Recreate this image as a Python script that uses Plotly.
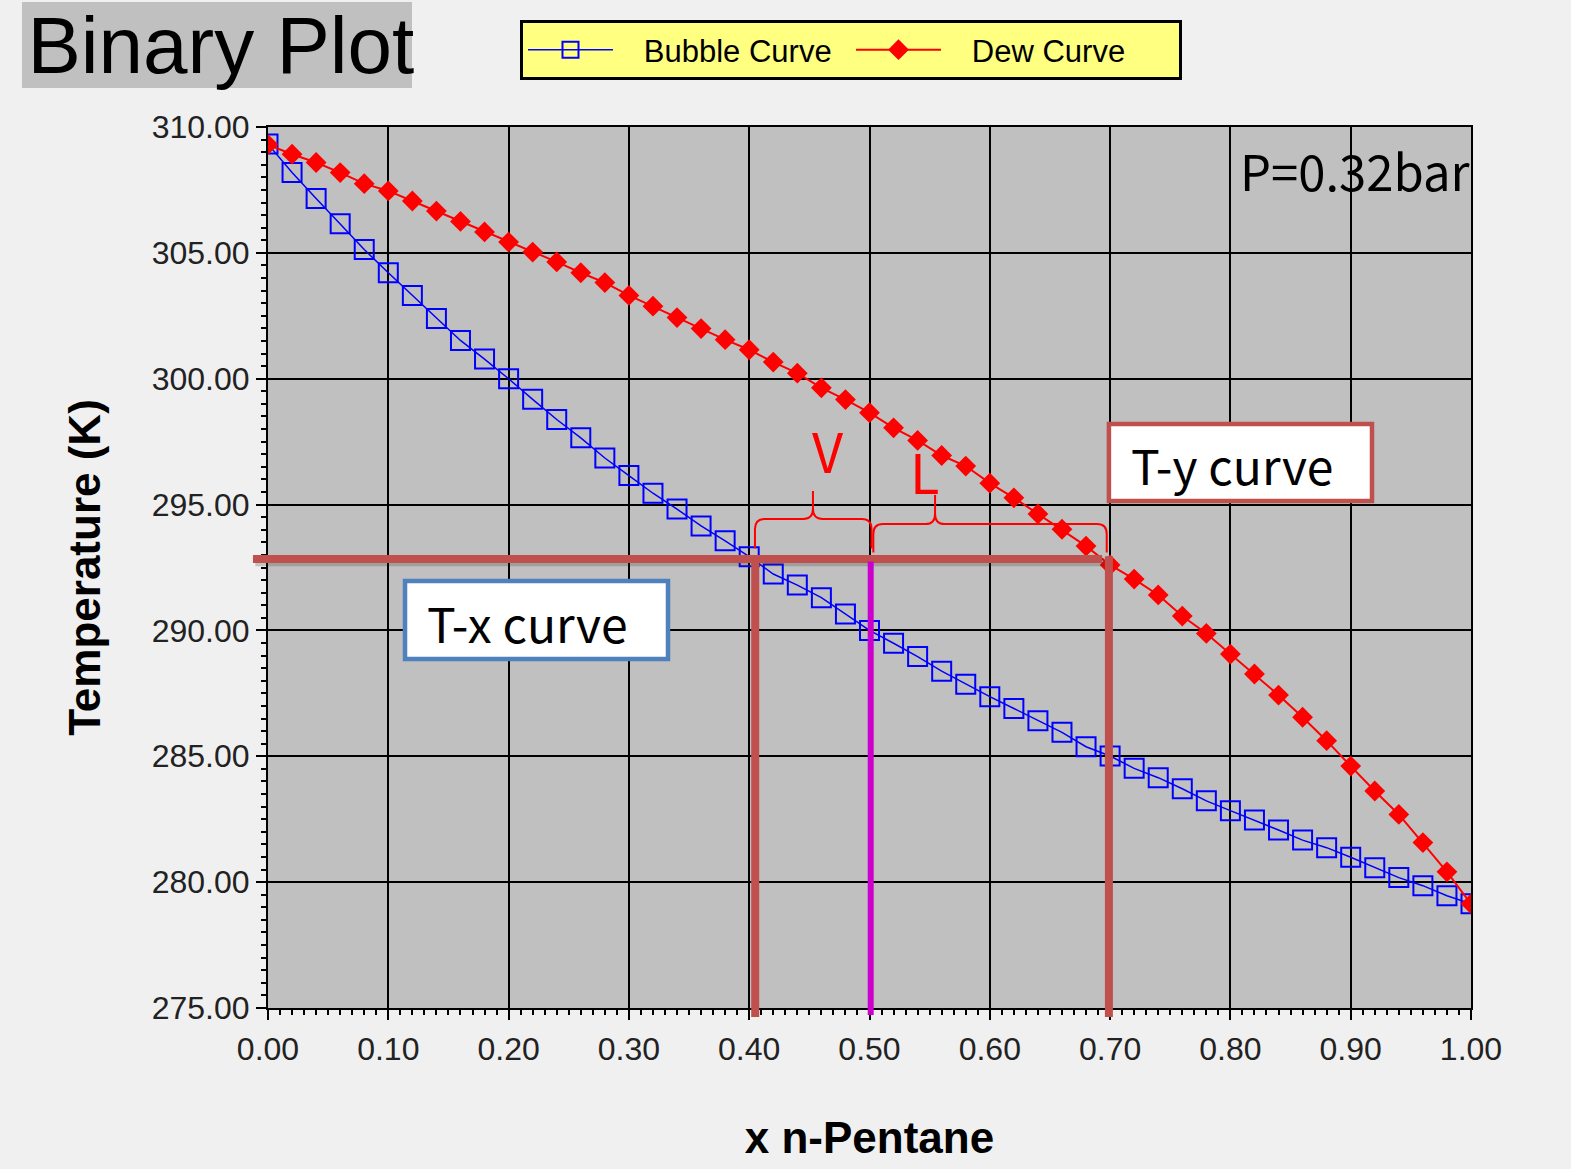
import plotly.graph_objects as go

# Liquid mole fraction of n-pentane (T-x-y diagram at 0.32 bar)
x_pentane = [0.00, 0.02, 0.04, 0.06, 0.08, 0.10, 0.12, 0.14, 0.16, 0.18,
             0.20, 0.22, 0.24, 0.26, 0.28, 0.30, 0.32, 0.34, 0.36, 0.38,
             0.40, 0.42, 0.44, 0.46, 0.48, 0.50, 0.52, 0.54, 0.56, 0.58,
             0.60, 0.62, 0.64, 0.66, 0.68, 0.70, 0.72, 0.74, 0.76, 0.78,
             0.80, 0.82, 0.84, 0.86, 0.88, 0.90, 0.92, 0.94, 0.96, 0.98,
             1.00]

# Bubble-point temperatures (K)
t_bubble = [309.32, 308.19, 307.16, 306.16, 305.13, 304.21, 303.31, 302.39, 301.52, 300.78,
            300.00, 299.18, 298.38, 297.65, 296.85, 296.15, 295.45, 294.82, 294.15, 293.56,
            292.93, 292.24, 291.80, 291.30, 290.65, 290.00, 289.49, 288.96, 288.38, 287.86,
            287.37, 286.90, 286.41, 285.95, 285.38, 285.01, 284.52, 284.15, 283.71, 283.23,
            282.84, 282.47, 282.07, 281.67, 281.37, 280.99, 280.57, 280.18, 279.86, 279.46,
            279.14]

# Dew-point temperatures (K)
t_dew = [309.30, 308.92, 308.59, 308.19, 307.75, 307.46, 307.06, 306.66, 306.25, 305.83,
         305.43, 305.03, 304.64, 304.21, 303.82, 303.31, 302.88, 302.43, 301.99, 301.55,
         301.15, 300.66, 300.22, 299.64, 299.17, 298.65, 298.05, 297.55, 296.95, 296.53,
         295.85, 295.27, 294.63, 294.02, 293.35, 292.60, 292.04, 291.41, 290.57, 289.88,
         289.06, 288.27, 287.43, 286.55, 285.62, 284.61, 283.62, 282.69, 281.57, 280.41,
         279.14]

x_ticks = [0.0, 0.1, 0.2, 0.3, 0.4, 0.5, 0.6, 0.7, 0.8, 0.9, 1.0]
y_ticks = [275, 280, 285, 290, 295, 300, 305, 310]

# Lever-rule construction: tie line temperature and compositions
t_tie = 292.84
x_liq, x_feed, x_vap = 0.405, 0.501, 0.699

ARIAL = "Liberation Sans, Arial, sans-serif"
SANS = "Noto Sans CJK KR, Noto Sans, sans-serif"
TIE_RED = "#c0504d"
NBSP = "\u00a0"

fig = go.Figure()

fig.add_trace(go.Scatter(
    x=x_pentane, y=t_bubble, mode="lines+markers", name=NBSP * 3 + "Bubble Curve",
    line=dict(color="#0000ff", width=1.5),
    marker=dict(symbol="square-open", size=19, color="#0000ff",
                line=dict(width=2, color="#0000ff")),
))
fig.add_trace(go.Scatter(
    x=x_pentane, y=t_dew, mode="lines+markers", name=NBSP * 3 + "Dew Curve",
    line=dict(color="#ff0000", width=2),
    marker=dict(symbol="diamond", size=16, color="#ff0000"),
))


def brace(x0, x1, xt, y_end, y_h, y_tip, dx=0.008, dy=0.4):
    """Curly brace opening downward, tip pointing up at xt."""
    return (f"M{x0},{y_end} L{x0},{y_h - dy} Q{x0},{y_h} {x0 + dx},{y_h} "
            f"L{xt - dx},{y_h} Q{xt},{y_h} {xt},{y_h + dy} L{xt},{y_tip} "
            f"L{xt},{y_h + dy} Q{xt},{y_h} {xt + dx},{y_h} "
            f"L{x1 - dx},{y_h} Q{x1},{y_h} {x1},{y_h - dy} L{x1},{y_end}")


tie_paper = (t_tie - 275) / 35.0
shapes = [
    # title plate
    dict(type="rect", xref="paper", yref="paper", x0=-0.2045, x1=0.1197,
         y0=1.0443, y1=1.1419, fillcolor="#c0c0c0", line=dict(width=0), layer="below"),
    # tie line shadow + tie line
    dict(type="line", xref="paper", yref="y", x0=-0.0105, x1=0.6953,
         y0=t_tie - 0.13, y1=t_tie - 0.13, line=dict(color="rgba(40,40,40,0.22)", width=8),
         layer="above"),
    dict(type="line", xref="paper", yref="y", x0=-0.0125, x1=0.6933,
         y0=t_tie, y1=t_tie, line=dict(color=TIE_RED, width=8), layer="above"),
    # vertical drops to the composition axis
    dict(type="line", xref="x", yref="paper", x0=x_liq, x1=x_liq,
         y0=-0.0102, y1=tie_paper, line=dict(color=TIE_RED, width=8), layer="above"),
    dict(type="line", xref="x", yref="paper", x0=x_vap, x1=x_vap,
         y0=-0.0102, y1=tie_paper + 0.003, line=dict(color=TIE_RED, width=8), layer="above"),
    dict(type="line", xref="x", yref="paper", x0=x_feed, x1=x_feed,
         y0=-0.008, y1=tie_paper - 0.003, line=dict(color="#cc00cc", width=6), layer="above"),
    # lever arms
    dict(type="path", xref="x", yref="y", layer="above",
         path=brace(0.4048, 0.5017, 0.4530, 293.25, 294.43, 295.54),
         line=dict(color="#ff0000", width=2)),
    dict(type="path", xref="x", yref="y", layer="above",
         path=brace(0.5032, 0.6972, 0.5545, 293.10, 294.23, 295.38),
         line=dict(color="#ff0000", width=2)),
    # callout boxes
    dict(type="rect", xref="x", yref="y", x0=0.699, x1=0.9177, y0=295.14, y1=298.20,
         fillcolor="white", line=dict(color=TIE_RED, width=4.5), layer="above"),
    dict(type="rect", xref="x", yref="y", x0=0.1139, x1=0.3325, y0=288.86, y1=291.96,
         fillcolor="white", line=dict(color="#4f81bd", width=4.5), layer="above"),
]

annotations = [
    dict(text="T-y curve", x=0.7157, y=296.63, xref="x", yref="y", xanchor="left",
         yanchor="middle", showarrow=False, font=dict(family=SANS, size=48, color="black")),
    dict(text="T-x curve", x=0.1305, y=290.35, xref="x", yref="y", xanchor="left",
         yanchor="middle", showarrow=False, font=dict(family=SANS, size=48, color="black")),
    dict(text="P=0.32bar", x=0.8063, y=308.33, xref="x", yref="y", xanchor="left",
         yanchor="middle", showarrow=False, font=dict(family=SANS, size=49, color="black")),
    dict(text="V", x=0.4655, y=297.17, xref="x", yref="y", showarrow=False,
         font=dict(family=SANS, size=54, color="#ff0000")),
    dict(text="L", x=0.5453, y=296.37, xref="x", yref="y", showarrow=False,
         font=dict(family=SANS, size=54, color="#ff0000")),
]

axis_common = dict(
    showline=True, linecolor="black", linewidth=2, mirror=True,
    showgrid=True, gridcolor="black", gridwidth=2, zeroline=False,
    ticks="outside", ticklen=10, tickwidth=2, tickcolor="black",
    tickformat=".2f", tickfont=dict(family=ARIAL, size=32, color="#222222"),
)

fig.update_layout(
    width=1571, height=1169, autosize=False,
    margin=dict(l=268, r=100, t=127, b=161),
    paper_bgcolor="#f0f0f0", plot_bgcolor="#c0c0c0",
    title=dict(text="Binary Plot", xref="container", yref="container",
               x=0.0175, y=1 - 45 / 1169, xanchor="left", yanchor="middle",
               font=dict(family=ARIAL, size=80, color="black")),
    xaxis=dict(range=[0, 1], tickvals=x_ticks, ticklabelstandoff=2,
               minor=dict(dtick=0.01, ticks="outside", ticklen=5, tickwidth=1.5,
                          tickcolor="black", showgrid=False),
               title=dict(text="<b>x n-Pentane</b>", standoff=56,
                          font=dict(family=ARIAL, size=44, color="black")),
               **axis_common),
    yaxis=dict(range=[275, 310], tickvals=y_ticks, ticklabelstandoff=0,
               minor=dict(dtick=0.5, ticks="outside", ticklen=5, tickwidth=1.5,
                          tickcolor="black", showgrid=False),
               title=dict(text="<b>Temperature (K)</b>", standoff=37,
                          font=dict(family=ARIAL, size=44, color="black")),
               **axis_common),
    legend=dict(orientation="h", xref="container", yref="container",
                x=520 / 1571, y=1 - 20 / 1169, xanchor="left", yanchor="top",
                bgcolor="#ffff80", bordercolor="black", borderwidth=3,
                font=dict(family=ARIAL, size=31, color="black"),
                itemwidth=85, entrywidth=228, entrywidthmode="pixels"),
    shapes=shapes,
    annotations=annotations,
)

fig.write_html("out.html")
